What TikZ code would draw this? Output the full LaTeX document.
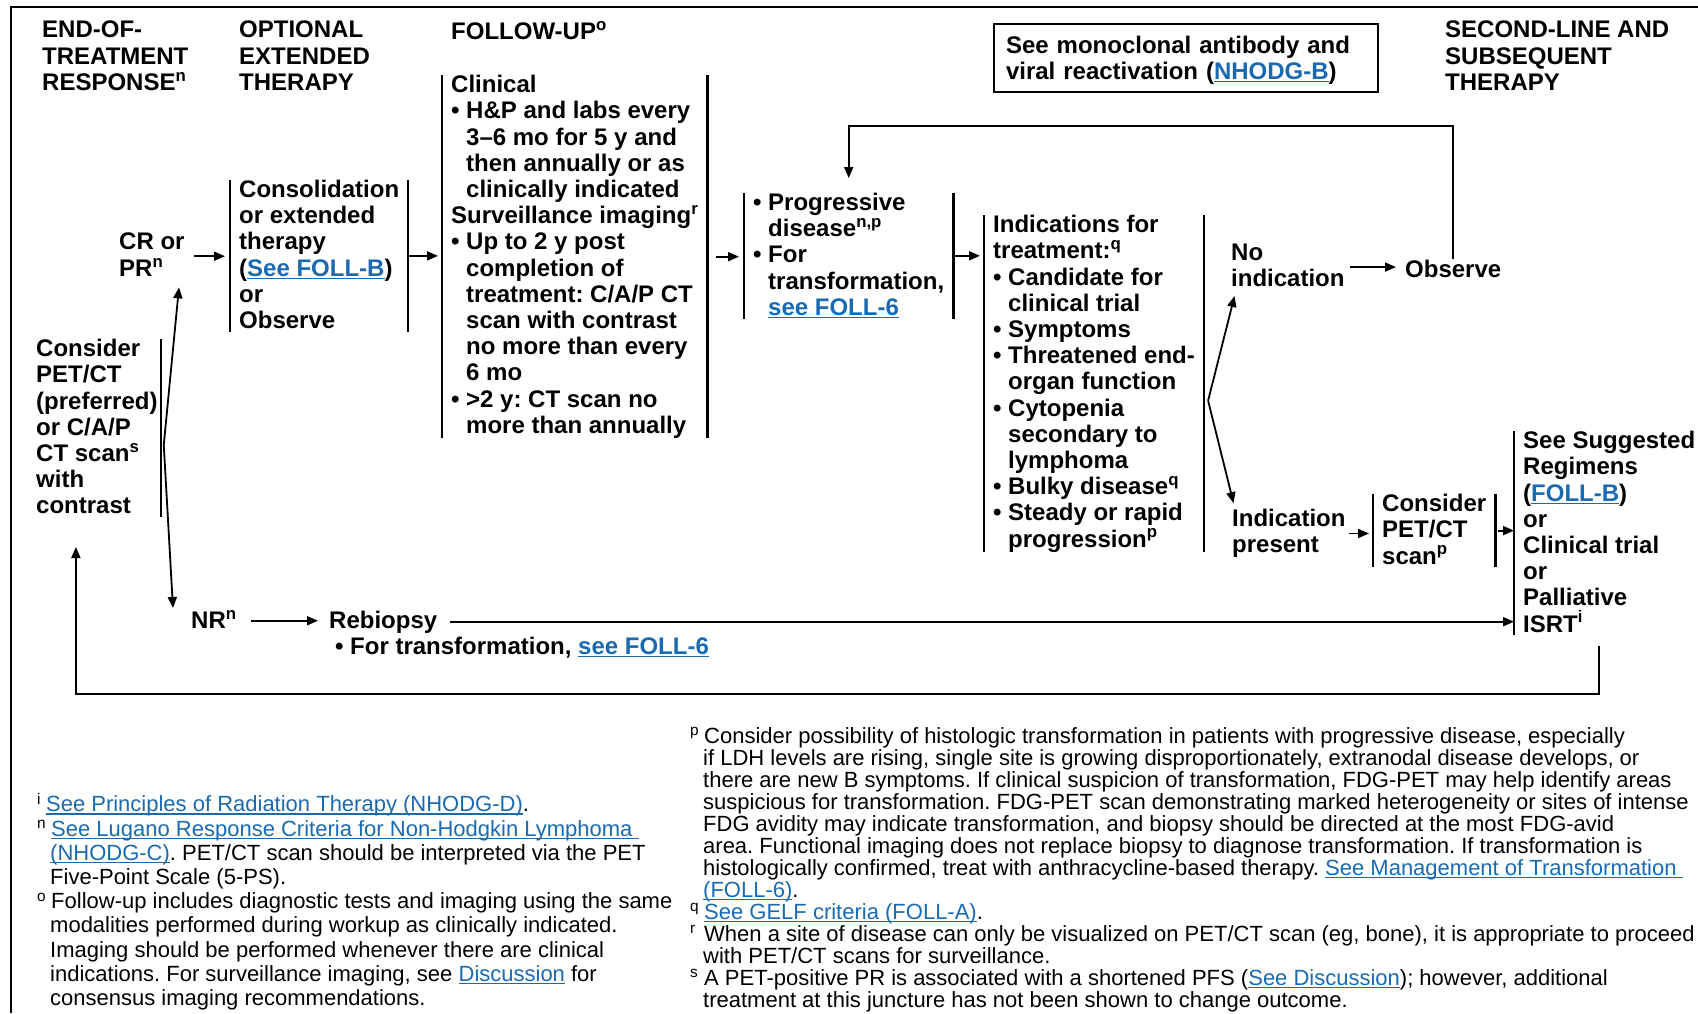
\documentclass[tikz,border=0pt]{standalone}
\usepackage{fontspec}
\setmainfont{Liberation Sans}
\usepackage{xcolor}
\usetikzlibrary{arrows.meta}
\frenchspacing

\definecolor{lnkblue}{HTML}{1A6AB1}
% underlined link text
\newcommand{\lnk}[1]{{\color{lnkblue}\setbox0=\hbox{#1}\rlap{\rule[-2.8pt]{\wd0}{1.3pt}}\box0}}
\newcommand{\bul}{\makebox[15pt][l]{\textbullet}}
\newcommand{\indnt}{\hspace*{15pt}}
\newcommand{\fnm}[1]{\makebox[14pt][l]{\textsuperscript{#1}}}
\newcommand{\fnind}{\hspace*{13pt}}

\tikzset{
  blk/.style={anchor=north west, inner xsep=9pt, inner ysep=0pt, align=left,
    font=\bfseries\fontsize{24pt}{26.2pt}\selectfont,
    execute at begin node={\rule{0pt}{18pt}},
    execute at end node={\rule[-3pt]{0pt}{3pt}}},
  notebox/.style={anchor=north west, draw, line width=2pt, inner xsep=12pt, inner ysep=8pt,
    text width=360pt, align=left, font=\bfseries\fontsize{24pt}{26.2pt}\selectfont,
    execute at begin node={\rule{0pt}{21pt}}},
  fnote/.style={anchor=north west, inner sep=0pt, align=left,
    execute at begin node={\rule{0pt}{16pt}}},
  bar/.style={line width=2.2pt},
  arr/.style={-{Triangle[length=11pt,width=9pt]}, line width=1.8pt},
}

\begin{document}
\begin{tikzpicture}[x=1pt, y=-1pt]
  \useasboundingbox (0,0) rectangle (1698,1013);
  % page frame
  \draw[line width=2pt] (11,1013) -- (11,6.5) -- (1698,6.5);

  % column headers
  \node[blk] (hdEnd) at (33,21) {END-OF-\\TREATMENT\\RESPONSE\textsuperscript{n}};
  \node[blk] (hdOpt) at (230,21) {OPTIONAL\\EXTENDED\\THERAPY};
  \node[blk] (hdFol) at (442,21) {FOLLOW-UP\textsuperscript{o}};
  \node[blk] (hdSec) at (1436,21) {SECOND-LINE AND\\SUBSEQUENT\\THERAPY};
  \node[notebox] (mab) at (993,23) {See monoclonal antibody and\\viral reactivation (\lnk{NHODG-B})};

  % main blocks
  \node[blk] (cr) at (110,233) {CR or\\PR\textsuperscript{n}};
  \node[blk] (cons) at (230,180) {Consolidation\\or extended\\therapy\\(\lnk{See FOLL-B})\\or\\Observe};
  \node[blk] (foll) at (442,75) {Clinical\\\bul H\&P and labs every\\\indnt 3–6 mo for 5 y and\\\indnt then annually or as\\\indnt clinically indicated\\Surveillance imaging\textsuperscript{r}\\\bul Up to 2 y post\\\indnt completion of\\\indnt treatment: C/A/P CT\\\indnt scan with contrast\\\indnt no more than every\\\indnt 6 mo\\\bul >2 y: CT scan no\\\indnt more than annually};
  \node[blk] (prog) at (744,193) {\bul Progressive\\\indnt disease\textsuperscript{n,p}\\\bul For\\\indnt transformation,\\\indnt \lnk{see FOLL-6}};
  \node[blk] (ind) at (984,215) {Indications for\\treatment:\textsuperscript{q}\\\bul Candidate for\\\indnt clinical trial\\\bul Symptoms\\\bul Threatened end-\\\indnt organ function\\\bul Cytopenia\\\indnt secondary to\\\indnt lymphoma\\\bul Bulky disease\textsuperscript{q}\\\bul Steady or rapid\\\indnt progression\textsuperscript{p}};
  \node[blk] (noind) at (1222,244) {No\\indication};
  \node[blk] (obs) at (1396,259) {Observe};
  \node[blk] (indp) at (1223,509) {Indication\\present};
  \node[blk] (cps) at (1373,494) {Consider\\PET/CT\\scan\textsuperscript{p}};
  \node[blk] (sugg) at (1514,431) {See Suggested\\Regimens\\(\lnk{FOLL-B})\\or\\Clinical trial\\or\\Palliative\\ISRT\textsuperscript{i}};
  \node[blk, inner xsep=0pt] (consL) at (36,339) {Consider\\PET/CT\\(preferred)\\or C/A/P\\CT scan\textsuperscript{s}\\with\\contrast};
  \node[blk] (nr) at (182,610) {NR\textsuperscript{n}};
  \node[blk] (rebio) at (320,610) {Rebiopsy};
  \node[blk] (rebioN) at (326,636) {\bul For transformation, \lnk{see FOLL-6}};

  % side bars
  \draw[bar] (cons.north west) -- (cons.south west);
  \draw[bar] (cons.north east) -- (cons.south east);
  \draw[bar] (foll.north west) -- (foll.south west);
  \draw[bar] (foll.north east) -- (foll.south east);
  \draw[bar] (prog.north west) -- (prog.south west);
  \draw[bar] (prog.north east) -- (prog.south east);
  \draw[bar] (ind.north west) -- (ind.south west);
  \draw[bar] (ind.north east) -- (ind.south east);
  \draw[bar] (cps.north west) -- (cps.south west);
  \draw[bar] (cps.north east) -- (cps.south east);
  \draw[bar] (sugg.north west) -- (sugg.south west);
  \draw[bar] ([xshift=3pt]consL.north east) -- ([xshift=3pt]consL.south east);

  % connectors
  \coordinate (cvtx) at ([xshift=6pt,yshift=-17pt]consL.east);
  \coordinate (split) at ([xshift=4pt,yshift=-17pt]ind.east);
  \coordinate (fbTop) at (0,126);
  \coordinate (lpB) at (0,694);
  \coordinate (lpS) at ([xshift=-10pt,yshift=-11pt]sugg.south);
  \coordinate (lpE) at ([xshift=-21pt,yshift=-30pt]consL.south);

  \draw[arr, shorten >=5pt] (cr.east) -- (cr.east -| cons.west);
  \draw[arr, shorten >=4pt] (cons.east) -- (cons.east -| foll.west);
  \draw[arr, shorten <=8pt, shorten >=5pt] (foll.east) -- (foll.east -| prog.west);
  \draw[arr, shorten <=2pt, shorten >=4pt] (prog.east) -- (prog.east -| ind.west);
  \draw[arr, shorten >=6pt] (split) -- ([xshift=14pt]noind.south west);
  \draw[arr, shorten >=6pt] (split) -- ([xshift=12pt]indp.north west);
  \draw[arr, shorten <=-4pt] (noind.east) -- (noind.east -| obs.west);
  \draw[arr] (obs.north) |- (prog.north |- fbTop) -- ([yshift=15pt]prog.north);
  \draw[arr, shorten <=-6pt, shorten >=4pt] (indp.east) -- (indp.east -| cps.west);
  \draw[arr, shorten <=3pt] (cps.east) -- (cps.east -| sugg.west);
  \draw[arr, shorten >=8pt] (cvtx) -- ([xshift=-14pt]cr.south east);
  \draw[arr] (cvtx) -- ([xshift=-9pt,yshift=2pt]nr.north west);
  \draw[arr, shorten <=5pt, shorten >=2pt] (nr.east) -- (nr.east -| rebio.west);
  \draw[arr, shorten <=4pt] (rebio.east) -- (rebio.east -| sugg.west);
  \draw[arr] (lpS) -- (lpS |- lpB) -| (lpE);

  % footnotes
  \node[fnote, font=\fontsize{22pt}{24.2pt}\selectfont] (fnL) at (37,793) {\textsuperscript{i}\hspace{5pt}\lnk{See Principles of Radiation Therapy (NHODG-D)}.\\
    \fnm{n}\lnk{See Lugano Response Criteria for Non-Hodgkin Lymphoma\ }\\
    \fnind\lnk{(NHODG-C)}. PET/CT scan should be interpreted via the PET\\
    \fnind Five-Point Scale (5-PS).\\
    \fnm{o}Follow-up includes diagnostic tests and imaging using the same\\
    \fnind modalities performed during workup as clinically indicated.\\
    \fnind Imaging should be performed whenever there are clinical\\
    \fnind indications. For surveillance imaging, see \lnk{Discussion} for\\
    \fnind consensus imaging recommendations.};
  \node[fnote, font=\fontsize{22pt}{22pt}\selectfont] (fnR) at (690,727) {\fnm{p}Consider possibility of histologic transformation in patients with progressive disease, especially\\
    \fnind if LDH levels are rising, single site is growing disproportionately, extranodal disease develops, or\\
    \fnind there are new B symptoms. If clinical suspicion of transformation, FDG-PET may help identify areas\\
    \fnind suspicious for transformation. FDG-PET scan demonstrating marked heterogeneity or sites of intense\\
    \fnind FDG avidity may indicate transformation, and biopsy should be directed at the most FDG-avid\\
    \fnind area. Functional imaging does not replace biopsy to diagnose transformation. If transformation is\\
    \fnind histologically confirmed, treat with anthracycline-based therapy. \lnk{See Management of Transformation\ }\\
    \fnind\lnk{(FOLL-6)}.\\
    \fnm{q}\lnk{See GELF criteria (FOLL-A)}.\\
    \fnm{r}When a site of disease can only be visualized on PET/CT scan (eg, bone), it is appropriate to proceed\\
    \fnind with PET/CT scans for surveillance.\\
    \fnm{s}A PET-positive PR is associated with a shortened PFS (\lnk{See Discussion}); however, additional\\
    \fnind treatment at this juncture has not been shown to change outcome.};
\end{tikzpicture}
\end{document}
